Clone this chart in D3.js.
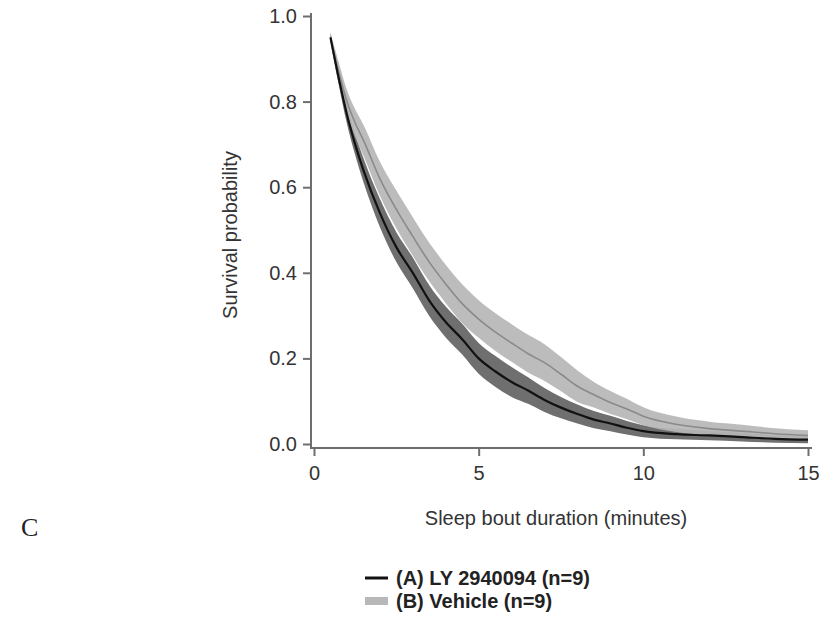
<!DOCTYPE html>
<html>
<head>
<meta charset="utf-8">
<script src="https://cdn.jsdelivr.net/npm/d3@7/dist/d3.min.js"></script>
<style>
  html, body { margin: 0; padding: 0; background: #fff; }
  svg { display: block; }
</style>
</head>
<body>
<svg id="chart" width="822" height="620"></svg>
<script>
// ---- data ----
const times = [0.5, 0.75, 1, 1.25, 1.5, 2, 2.5, 3, 3.5, 4, 4.5, 5, 5.5, 6, 6.5, 7, 7.5, 8, 8.5, 9, 9.5, 10, 11, 12, 13, 14, 15];

const lyMean  = [0.95, 0.855, 0.77, 0.70, 0.64, 0.54, 0.46, 0.40, 0.335, 0.285, 0.245, 0.20, 0.17, 0.145, 0.125, 0.103, 0.085, 0.070, 0.057, 0.048, 0.038, 0.030, 0.023, 0.020, 0.016, 0.012, 0.010];
const lyLower = [0.94, 0.84, 0.748, 0.675, 0.612, 0.507, 0.425, 0.364, 0.299, 0.249, 0.209, 0.164, 0.134, 0.11, 0.094, 0.075, 0.06, 0.048, 0.037, 0.030, 0.022, 0.016, 0.011, 0.009, 0.006, 0.003, 0.002];
const lyUpper = [0.96, 0.87, 0.792, 0.725, 0.668, 0.573, 0.495, 0.436, 0.371, 0.321, 0.281, 0.236, 0.206, 0.18, 0.156, 0.131, 0.11, 0.092, 0.077, 0.066, 0.054, 0.044, 0.035, 0.031, 0.026, 0.021, 0.018];

const vehMean  = [0.95, 0.87, 0.80, 0.75, 0.71, 0.62, 0.548, 0.485, 0.425, 0.374, 0.328, 0.292, 0.262, 0.236, 0.211, 0.19, 0.163, 0.135, 0.115, 0.097, 0.082, 0.065, 0.046, 0.036, 0.030, 0.024, 0.020];
const vehLower = [0.938, 0.848, 0.773, 0.718, 0.674, 0.58, 0.504, 0.44, 0.38, 0.329, 0.283, 0.248, 0.218, 0.192, 0.167, 0.147, 0.123, 0.098, 0.085, 0.070, 0.058, 0.044, 0.028, 0.020, 0.015, 0.011, 0.008];
const vehUpper = [0.962, 0.892, 0.827, 0.782, 0.746, 0.66, 0.592, 0.53, 0.47, 0.419, 0.373, 0.336, 0.306, 0.28, 0.255, 0.233, 0.203, 0.172, 0.145, 0.124, 0.106, 0.086, 0.064, 0.052, 0.045, 0.037, 0.032];

const xTicks = [0, 5, 10, 15];
const yTicks = [0.0, 0.2, 0.4, 0.6, 0.8, 1.0];
const xTitle = "Sleep bout duration (minutes)";
const yTitle = "Survival probability";
const panelLabel = "C";
const legendLabels = ["(A) LY 2940094 (n=9)", "(B) Vehicle (n=9)"];

// ---- drawing ----
const svg = d3.select("#chart");
const font = "Liberation Sans, Arial, Helvetica, sans-serif";
const axisColor = "#6e6e6e";
const textColor = "#333";

const x = d3.scaleLinear().domain([0, 15]).range([314, 808]);
const y = d3.scaleLinear().domain([0, 1]).range([444, 16]);

const ly = times.map((t, i) => ({ t, m: lyMean[i], lo: lyLower[i], hi: lyUpper[i] }));
const veh = times.map((t, i) => ({ t, m: vehMean[i], lo: vehLower[i], hi: vehUpper[i] }));

const curve = d3.curveMonotoneX;
const area = d3.area().curve(curve).x(d => x(d.t)).y0(d => y(d.lo)).y1(d => y(d.hi));
const line = d3.line().curve(curve).x(d => x(d.t)).y(d => y(d.m));

const plot = svg.append("g");
plot.append("path").datum(ly).attr("d", area).attr("fill", "#6f6f6f");
plot.append("path").datum(veh).attr("d", area).attr("fill", "#b6b6b6").attr("fill-opacity", 0.92);
plot.append("path").datum(veh).attr("d", line).attr("fill", "none").attr("stroke", "#8a8a8a").attr("stroke-width", 1.6);
plot.append("path").datum(ly).attr("d", line).attr("fill", "none").attr("stroke", "#111").attr("stroke-width", 2.2);

// x axis
const xAxisY = 448;
const gx = svg.append("g").attr("transform", `translate(0,${xAxisY})`)
  .call(d3.axisBottom(x).tickValues(xTicks).tickFormat(d3.format("d")).tickSize(8).tickPadding(10));
gx.select(".domain").remove();
gx.append("line").attr("x1", 311).attr("x2", 812).attr("y1", 0).attr("y2", 0)
  .attr("stroke", axisColor).attr("stroke-width", 2);
gx.selectAll(".tick line").attr("stroke", axisColor).attr("stroke-width", 2);
gx.selectAll(".tick text").attr("font-family", font).attr("font-size", 20).attr("fill", textColor);

// y axis
const yAxisX = 311;
const gy = svg.append("g").attr("transform", `translate(${yAxisX},0)`)
  .call(d3.axisLeft(y).tickValues(yTicks).tickFormat(d3.format(".1f")).tickSize(8).tickPadding(6));
gy.select(".domain").remove();
gy.append("line").attr("x1", 0).attr("x2", 0).attr("y1", 13).attr("y2", 449)
  .attr("stroke", axisColor).attr("stroke-width", 2);
gy.selectAll(".tick line").attr("stroke", axisColor).attr("stroke-width", 2);
gy.selectAll(".tick text").attr("font-family", font).attr("font-size", 20).attr("fill", textColor);

// titles
svg.append("text").attr("x", 556).attr("y", 525).attr("text-anchor", "middle")
  .attr("font-family", font).attr("font-size", 20).attr("fill", textColor).text(xTitle);
svg.append("text").attr("transform", "translate(237,235) rotate(-90)").attr("text-anchor", "middle")
  .attr("font-family", font).attr("font-size", 20).attr("fill", textColor).text(yTitle);

svg.append("text").attr("x", 21).attr("y", 536)
  .attr("font-family", "Liberation Serif, Times New Roman, serif").attr("font-size", 26).attr("fill", "#222").text(panelLabel);

// legend
const leg = svg.append("g");
leg.append("line").attr("x1", 365).attr("x2", 388).attr("y1", 578).attr("y2", 578)
  .attr("stroke", "#111").attr("stroke-width", 3);
leg.append("rect").attr("x", 365).attr("y", 597).attr("width", 23).attr("height", 8).attr("fill", "#b8b8b8");
legendLabels.forEach((lab, i) => {
  leg.append("text").attr("x", 396).attr("y", 578 + i * 23).attr("dy", "0.35em")
    .attr("font-family", font).attr("font-size", 20).attr("font-weight", "bold").attr("fill", "#222").text(lab);
});
</script>
</body>
</html>
